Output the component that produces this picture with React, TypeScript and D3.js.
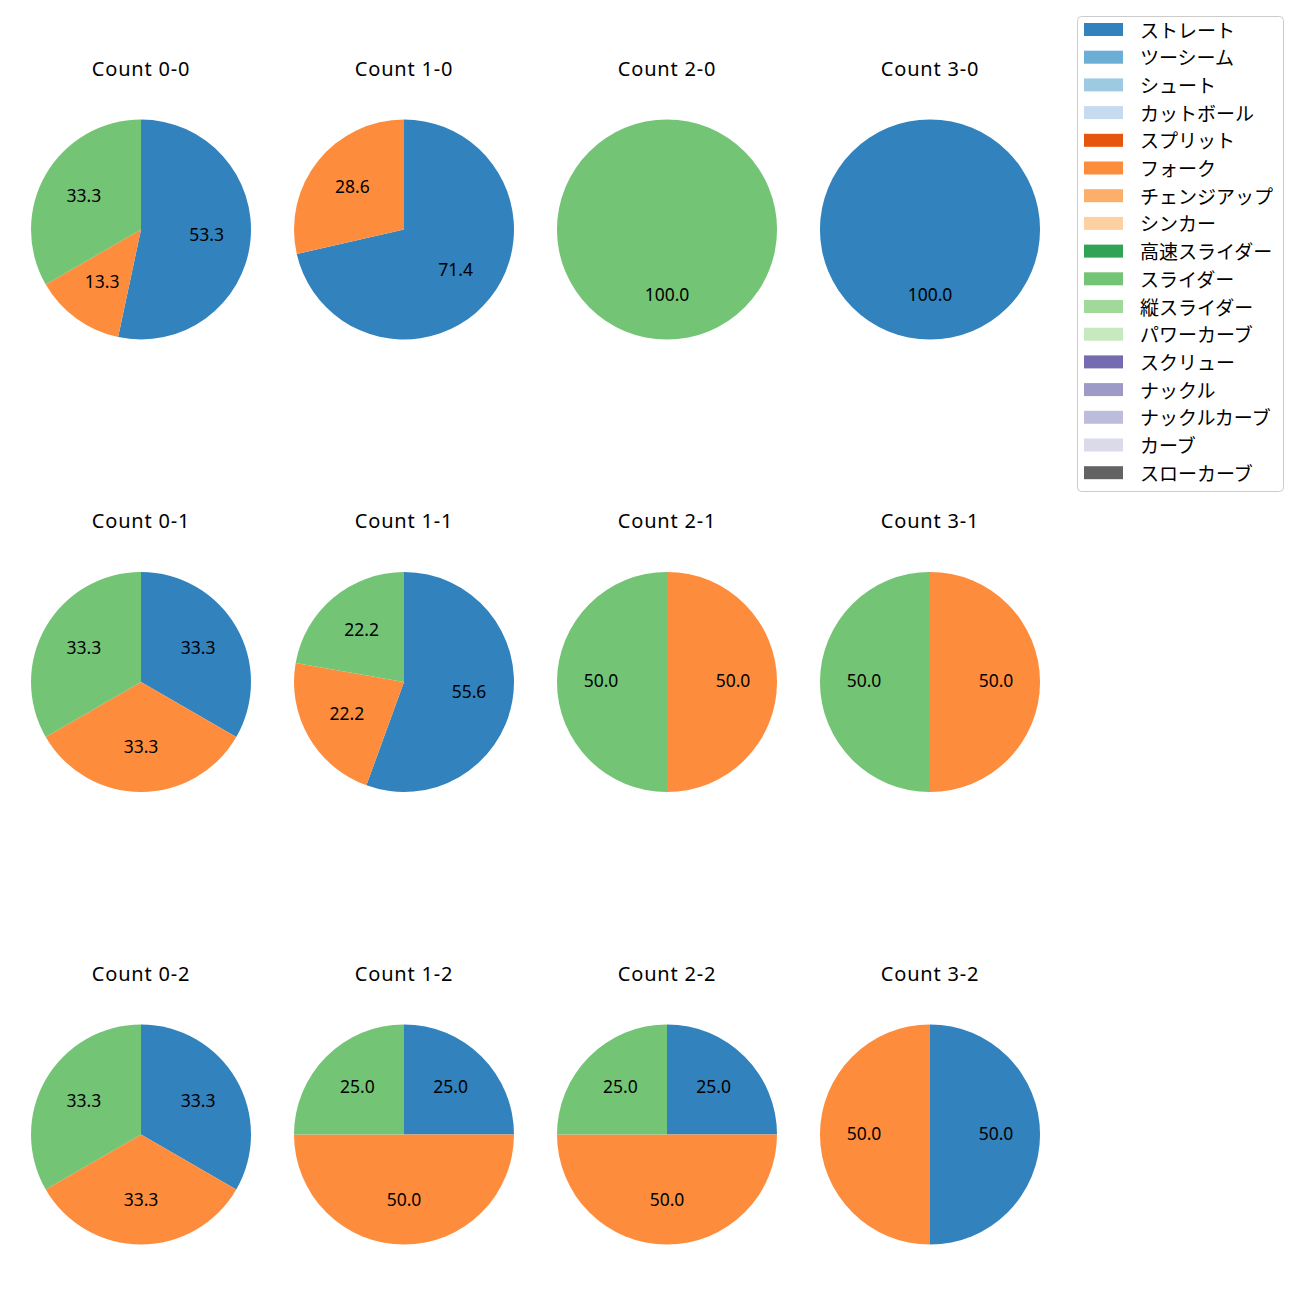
import React from "react";
import * as d3 from "d3";

const pitchTypes = [
  "ストレート", "ツーシーム", "シュート", "カットボール", "スプリット", "フォーク",
  "チェンジアップ", "シンカー", "高速スライダー", "スライダー", "縦スライダー",
  "パワーカーブ", "スクリュー", "ナックル", "ナックルカーブ", "カーブ", "スローカーブ",
];
const pitchColors = [
  "#3182bd", "#6baed6", "#9ecae1", "#c6dbef", "#e6550d", "#fd8d3c", "#fdae6b",
  "#fdd0a2", "#31a354", "#74c476", "#a1d99b", "#c7e9c0", "#756bb1", "#9e9ac8",
  "#bcbddc", "#dadaeb", "#636363",
];

const countTitles = [
  "Count 0-0", "Count 1-0", "Count 2-0", "Count 3-0",
  "Count 0-1", "Count 1-1", "Count 2-1", "Count 3-1",
  "Count 0-2", "Count 1-2", "Count 2-2", "Count 3-2",
];
// pitch counts per count: [ストレート, フォーク, スライダー]
const straightVals = [8, 5, 0, 1, 1, 5, 0, 0, 1, 1, 1, 1];
const forkVals = [2, 2, 0, 0, 1, 2, 1, 1, 1, 2, 2, 1];
const sliderVals = [5, 0, 1, 0, 1, 2, 1, 1, 1, 1, 1, 0];

const colCenters = [141, 404, 667, 930];
const rowCenters = [229.5, 682, 1134.5];
const R = 110;
const LATIN = "'Noto Sans', 'Noto Sans CJK JP', sans-serif";
const CJK = "'Noto Sans CJK JP', 'Noto Sans', sans-serif";

export default function App() {
  const pie = d3.pie<{ v: number; c: string }>().sort(null).value((d) => d.v);
  const arc = d3.arc<d3.PieArcDatum<{ v: number; c: string }>>().innerRadius(0).outerRadius(R);

  const charts = countTitles.map((title, i) => {
    const vals = pitchTypes.map((_, k) => {
      let v = 0;
      if (k === 0) v = straightVals[i];
      if (k === 5) v = forkVals[i];
      if (k === 9) v = sliderVals[i];
      return { v, c: pitchColors[k] };
    }).filter((d) => d.v > 0);
    const total = d3.sum(vals, (d) => d.v);
    const arcs = pie(vals);
    const cx = colCenters[i % 4];
    const cy = rowCenters[Math.floor(i / 4)];
    return (
      <g key={title}>
        <text x={cx} y={cy - 161.5} textAnchor="middle" dominantBaseline="central"
          fontFamily={LATIN} fontSize={20} letterSpacing={0.8} fill="#000">{title}</text>
        <g transform={`translate(${cx},${cy})`}>
          {arcs.map((a, j) => (
            <path key={j} d={arc(a) || ""} fill={a.data.c} />
          ))}
          {arcs.map((a, j) => {
            const m = (a.startAngle + a.endAngle) / 2;
            const lx = Math.sin(m) * R * 0.6;
            const ly = -Math.cos(m) * R * 0.6;
            return (
              <text key={"t" + j} x={lx} y={ly - 2} textAnchor="middle" dominantBaseline="central"
                fontFamily={LATIN} fontSize={17.5} fill="#000">
                {((a.data.v / total) * 100).toFixed(1)}
              </text>
            );
          })}
        </g>
      </g>
    );
  });

  const legX = 1077, legY = 16, legW = 206, legH = 475;
  const rowY0 = 29.5, rowStep = 27.7;

  return (
    <svg width={1300} height={1300} style={{ position: "absolute", left: 0, top: 0, background: "#fff" }}>
      <rect x={0} y={0} width={1300} height={1300} fill="#fff" />
      {charts}
      <rect x={legX + 0.5} y={legY + 0.5} width={legW} height={legH} rx={4} ry={4}
        fill="#fff" stroke="#cccccc" strokeWidth={1} />
      {pitchTypes.map((p, k) => (
        <g key={p}>
          <rect x={1084} y={rowY0 + k * rowStep - 6.5} width={39} height={13} fill={pitchColors[k]} />
          <text x={1140} y={rowY0 + k * rowStep - 0.5} dominantBaseline="central"
            fontFamily={CJK} fontSize={19} fill="#000">{p}</text>
        </g>
      ))}
    </svg>
  );
}
